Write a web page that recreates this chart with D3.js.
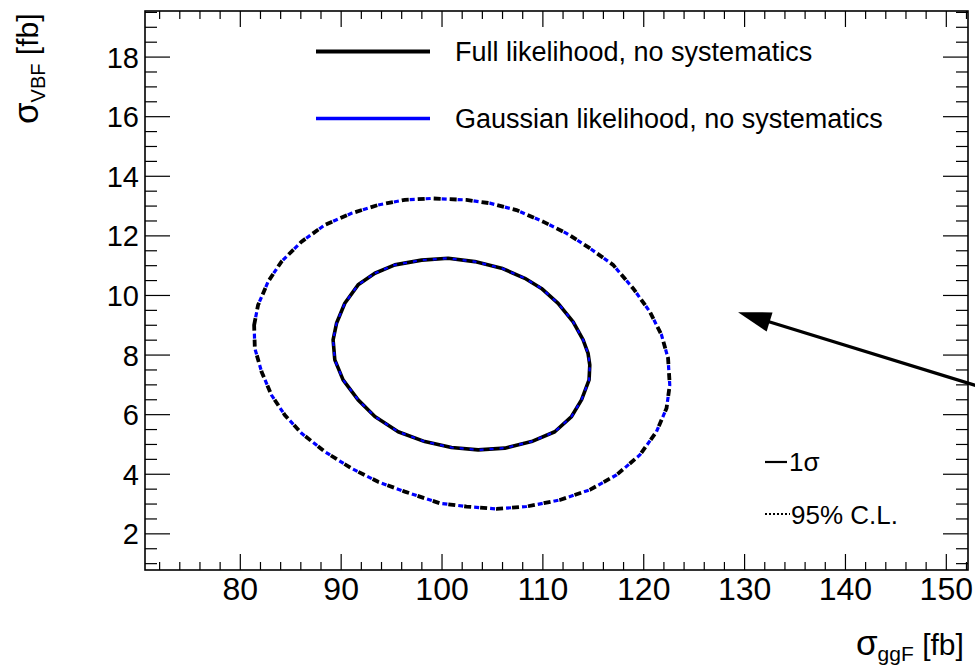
<!DOCTYPE html>
<html><head><meta charset="utf-8">
<script src="https://cdn.jsdelivr.net/npm/d3@7"></script>
<style>
body{margin:0;background:#fff}
text{font-family:"Liberation Sans",Arial,Helvetica,sans-serif;fill:#000}
</style>
</head><body>
<svg id="c" width="975" height="668" xmlns="http://www.w3.org/2000/svg"></svg>
<script>
// ---------- data ----------
const xDomain = [70.6, 152.2];
const yDomain = [0.77, 19.53];
const xTickLabels = [80, 90, 100, 110, 120, 130, 140, 150];
const yTickLabels = [2, 4, 6, 8, 10, 12, 14, 16, 18];
const xMinorTicks = [72,74,76,78,82,84,86,88,92,94,96,98,102,104,106,108,112,114,116,118,122,124,126,128,132,134,136,138,142,144,146,148,152];
const yMinorTicks = [1,1.5,2.5,3,3.5,4.5,5,5.5,6.5,7,7.5,8.5,9,9.5,10.5,11,11.5,12.5,13,13.5,14.5,15,15.5,16.5,17,17.5,18.5,19,19.5];

// Full likelihood, 1 sigma contour (sigma_ggF, sigma_VBF)
const fullInner = [
 [93.39,10.73],[95.37,11.01],[98.02,11.17],[100.65,11.23],[103.30,11.12],[105.95,10.90],
 [108.26,10.56],[109.91,10.22],[111.56,9.72],[113.05,9.10],[114.04,8.49],[114.53,8.04],
 [114.70,7.65],[114.63,7.15],[113.88,6.48],[112.89,5.92],[111.23,5.41],[108.92,5.08],
 [106.27,4.86],[103.63,4.80],[100.99,4.88],[98.34,5.08],[95.70,5.41],[93.39,5.92],
 [91.73,6.48],[90.24,7.15],[89.42,7.82],[89.25,8.49],[89.59,9.05],[90.41,9.72],[91.73,10.34]
];
// Full likelihood, 95% CL contour
const fullOuter = [
 [81.42,8.99],[81.81,9.66],[82.81,10.45],[84.13,11.12],[86.12,11.79],[88.43,12.35],
 [91.07,12.74],[93.71,13.02],[96.36,13.19],[99.01,13.24],[102.48,13.19],[104.79,13.08],
 [107.43,12.85],[110.07,12.46],[112.39,12.07],[114.70,11.57],[117.01,11.01],[119.00,10.22],
 [120.65,9.44],[121.81,8.66],[122.46,7.88],[122.63,6.98],[122.31,6.20],[121.31,5.41],
 [119.66,4.63],[117.35,3.96],[114.70,3.46],[111.73,3.12],[108.43,2.90],[105.45,2.82],
 [102.48,2.90],[99.83,3.01],[96.36,3.40],[93.71,3.73],[91.07,4.18],[88.43,4.74],
 [86.12,5.36],[84.46,5.97],[83.14,6.64],[82.15,7.43],[81.49,8.21]
];
// Gaussian likelihood, 1 sigma contour
const gaussInner = [
 [93.39,10.73],[95.37,11.01],[98.02,11.17],[100.65,11.23],[103.30,11.12],[105.95,10.90],
 [108.26,10.56],[109.91,10.22],[111.56,9.72],[113.05,9.10],[114.04,8.49],[114.53,8.04],
 [114.70,7.65],[114.63,7.15],[113.88,6.48],[112.89,5.92],[111.23,5.41],[108.92,5.08],
 [106.27,4.86],[103.63,4.80],[100.99,4.88],[98.34,5.08],[95.70,5.41],[93.39,5.92],
 [91.73,6.48],[90.24,7.15],[89.42,7.82],[89.25,8.49],[89.59,9.05],[90.41,9.72],[91.73,10.34]
];
// Gaussian likelihood, 95% CL contour
const gaussOuter = [
 [81.42,8.99],[81.81,9.66],[82.81,10.45],[84.13,11.12],[86.12,11.79],[88.43,12.35],
 [91.07,12.74],[93.71,13.02],[96.36,13.19],[99.01,13.24],[102.48,13.19],[104.79,13.08],
 [107.43,12.85],[110.07,12.46],[112.39,12.07],[114.70,11.57],[117.01,11.01],[119.00,10.22],
 [120.65,9.44],[121.81,8.66],[122.46,7.88],[122.63,6.98],[122.31,6.20],[121.31,5.41],
 [119.66,4.63],[117.35,3.96],[114.70,3.46],[111.73,3.12],[108.43,2.90],[105.45,2.82],
 [102.48,2.90],[99.83,3.01],[96.36,3.40],[93.71,3.73],[91.07,4.18],[88.43,4.74],
 [86.12,5.36],[84.46,5.97],[83.14,6.64],[82.15,7.43],[81.49,8.21]
];
// arrow (data coordinates): from tail to head
const arrowFrom = [155.4, 6.71];
const arrowTo = [129.4, 9.42];

const legendLabels = ["Full likelihood, no systematics", "Gaussian likelihood, no systematics"];
const legendColors = ["#000000", "#0000ff"];
const styleLabels = ["1\u03c3", "95% C.L."];

// ---------- drawing ----------
const svg = d3.select("#c");
svg.append("rect").attr("width",975).attr("height",668).attr("fill","#fff");

const L=145, R=968, T=11, B=570;
const x = d3.scaleLinear().domain(xDomain).range([L, R]);
const y = d3.scaleLinear().domain(yDomain).range([B, T]);

function styleAxis(g){ g.select(".domain").remove(); g.selectAll(".tick line").attr("stroke","#000").attr("stroke-width",1.2); }

svg.append("g").attr("transform",`translate(0,${B})`)
  .call(d3.axisBottom(x).tickValues(xTickLabels).tickSize(-16).tickSizeOuter(0).tickPadding(7).tickFormat(d3.format("d")))
  .call(styleAxis)
  .call(g=>g.selectAll("text").attr("font-size",32).attr("font-family","Liberation Sans, Arial, sans-serif"));
svg.append("g").attr("transform",`translate(0,${B})`)
  .call(d3.axisBottom(x).tickValues(xMinorTicks).tickSize(-8).tickSizeOuter(0).tickFormat(""))
  .call(styleAxis);
svg.append("g").attr("transform",`translate(0,${T})`)
  .call(d3.axisTop(x).tickValues(xTickLabels).tickSize(-16).tickSizeOuter(0).tickFormat(""))
  .call(styleAxis);
svg.append("g").attr("transform",`translate(0,${T})`)
  .call(d3.axisTop(x).tickValues(xMinorTicks).tickSize(-8).tickSizeOuter(0).tickFormat(""))
  .call(styleAxis);

svg.append("g").attr("transform",`translate(${L},0)`)
  .call(d3.axisLeft(y).tickValues(yTickLabels).tickSize(-25).tickSizeOuter(0).tickPadding(6).tickFormat(d3.format("d")))
  .call(styleAxis)
  .call(g=>g.selectAll("text").attr("font-size",29).attr("dy","0.36em").attr("font-family","Liberation Sans, Arial, sans-serif"));
svg.append("g").attr("transform",`translate(${L},0)`)
  .call(d3.axisLeft(y).tickValues(yMinorTicks).tickSize(-12).tickSizeOuter(0).tickFormat(""))
  .call(styleAxis);
svg.append("g").attr("transform",`translate(${R},0)`)
  .call(d3.axisRight(y).tickValues(yTickLabels).tickSize(-25).tickSizeOuter(0).tickFormat(""))
  .call(styleAxis);
svg.append("g").attr("transform",`translate(${R},0)`)
  .call(d3.axisRight(y).tickValues(yMinorTicks).tickSize(-12).tickSizeOuter(0).tickFormat(""))
  .call(styleAxis);

// frame
svg.append("rect").attr("x",L).attr("y",T).attr("width",R-L).attr("height",B-T)
  .attr("fill","none").attr("stroke","#000").attr("stroke-width",1.6);

// contours
const line = d3.line().x(d=>x(d[0])).y(d=>y(d[1])).curve(d3.curveLinearClosed);
const cg = svg.append("g");
cg.append("path").attr("d",line(fullInner)).attr("fill","none").attr("stroke","#000").attr("stroke-width",3.6).attr("stroke-linejoin","round");
cg.append("path").attr("d",line(gaussInner)).attr("fill","none").attr("stroke","#0000ff").attr("stroke-width",2.2).attr("stroke-dasharray","4,6");
cg.append("path").attr("d",line(fullOuter)).attr("fill","none").attr("stroke","#000").attr("stroke-width",3.8).attr("stroke-dasharray","7,9");
cg.append("path").attr("d",line(gaussOuter)).attr("fill","none").attr("stroke","#0000ff").attr("stroke-width",3.2).attr("stroke-dasharray","5,11").attr("stroke-dashoffset",-8);

// arrow
const ax0 = x(arrowFrom[0]), ay0 = y(arrowFrom[1]), ax1 = x(arrowTo[0]), ay1 = y(arrowTo[1]);
const ang = Math.atan2(ay1-ay0, ax1-ax0);
const hl = 33, hw = 10;
const bx = ax1 - hl*Math.cos(ang), by = ay1 - hl*Math.sin(ang);
svg.append("line").attr("x1",ax0).attr("y1",ay0).attr("x2",bx+4*Math.cos(ang)).attr("y2",by+4*Math.sin(ang))
  .attr("stroke","#000").attr("stroke-width",3.2);
svg.append("path")
  .attr("d",`M${ax1},${ay1}L${bx - hw*Math.sin(ang)},${by + hw*Math.cos(ang)}L${bx + hw*Math.sin(ang)},${by - hw*Math.cos(ang)}Z`)
  .attr("fill","#000");

// top legend
const lg = svg.append("g");
[51.5, 118.5].forEach((ly,i)=>{
  lg.append("line").attr("x1",316).attr("x2",430).attr("y1",ly).attr("y2",ly)
    .attr("stroke",legendColors[i]).attr("stroke-width",i===0?4:3.4);
  lg.append("text").attr("x",455).attr("y",ly+9.5).attr("font-size",27).text(legendLabels[i]);
});

// style legend
const sg = svg.append("g");
sg.append("line").attr("x1",765).attr("x2",787).attr("y1",462).attr("y2",462).attr("stroke","#000").attr("stroke-width",2.2);
sg.append("text").attr("x",789).attr("y",471).attr("font-size",26).text(styleLabels[0]);
sg.append("line").attr("x1",765).attr("x2",790).attr("y1",514).attr("y2",514).attr("stroke","#000").attr("stroke-width",2).attr("stroke-dasharray","2,2");
sg.append("text").attr("x",791).attr("y",524).attr("font-size",26).text(styleLabels[1]);

// axis titles
const xt = svg.append("text").attr("x",856).attr("y",655);
xt.append("tspan").attr("font-size",35).text("\u03c3");
xt.append("tspan").attr("font-size",21).attr("dy",6).text("ggF");
xt.append("tspan").attr("font-size",30).attr("dy",-6).text(" [fb]");

const yt = svg.append("text").attr("transform","translate(38,124) rotate(-90)");
yt.append("tspan").attr("font-size",35).text("\u03c3");
yt.append("tspan").attr("font-size",20).attr("dy",7).text("VBF");
yt.append("tspan").attr("font-size",30).attr("dy",-7).text(" [fb]");
</script>
</body></html>
